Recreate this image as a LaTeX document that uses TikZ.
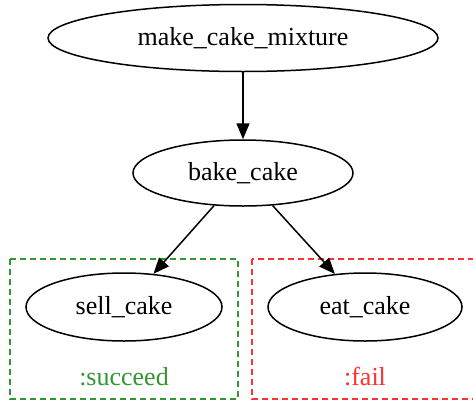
\documentclass[tikz,border=0pt]{standalone}
\usepackage{fontspec}
\setmainfont{Liberation Serif}
\usetikzlibrary{shapes.geometric,arrows.meta}
\definecolor{okgreen}{RGB}{50,150,50}
\definecolor{badred}{RGB}{255,50,50}
\begin{document}
\begin{tikzpicture}[x=1pt,y=-1pt,
  task/.style={draw,ellipse,line width=1.5pt,inner sep=0pt,font=\fontsize{26}{31}\selectfont},
  flow/.style={-{Triangle[length=16pt,width=13pt]},line width=1.5pt},
  group/.style={dash pattern=on 6pt off 4pt,line width=1.5pt},
  outcome/.style={font=\fontsize{26}{31}\selectfont}]
\clip (0,0) rectangle (473,402);
\fill[white] (0,0) rectangle (473,402);
% outcome groups
\draw[group,okgreen] (10,259) rectangle (238,399);
\draw[group,badred] (252,259) rectangle (478,399);
\node[outcome,text=okgreen] (succ) at (124,377) {:succeed};
\node[outcome,text=badred] (fail) at (365,377) {:fail};
% tasks
\node[task,minimum width=390pt,minimum height=67pt] (mix) at (243,38) {make\_cake\_mixture};
\node[task,minimum width=220pt,minimum height=66pt] (bake) at (243,173) {bake\_cake};
\node[task,minimum width=196pt,minimum height=68pt] (sell) at (124,307) {sell\_cake};
\node[task,minimum width=194pt,minimum height=68pt] (eat) at (365,307) {eat\_cake};
% flow
\draw[flow] (mix) -- (bake);
\draw[flow] (bake) -- (sell);
\draw[flow] (bake) -- (eat);
\end{tikzpicture}
\end{document}
